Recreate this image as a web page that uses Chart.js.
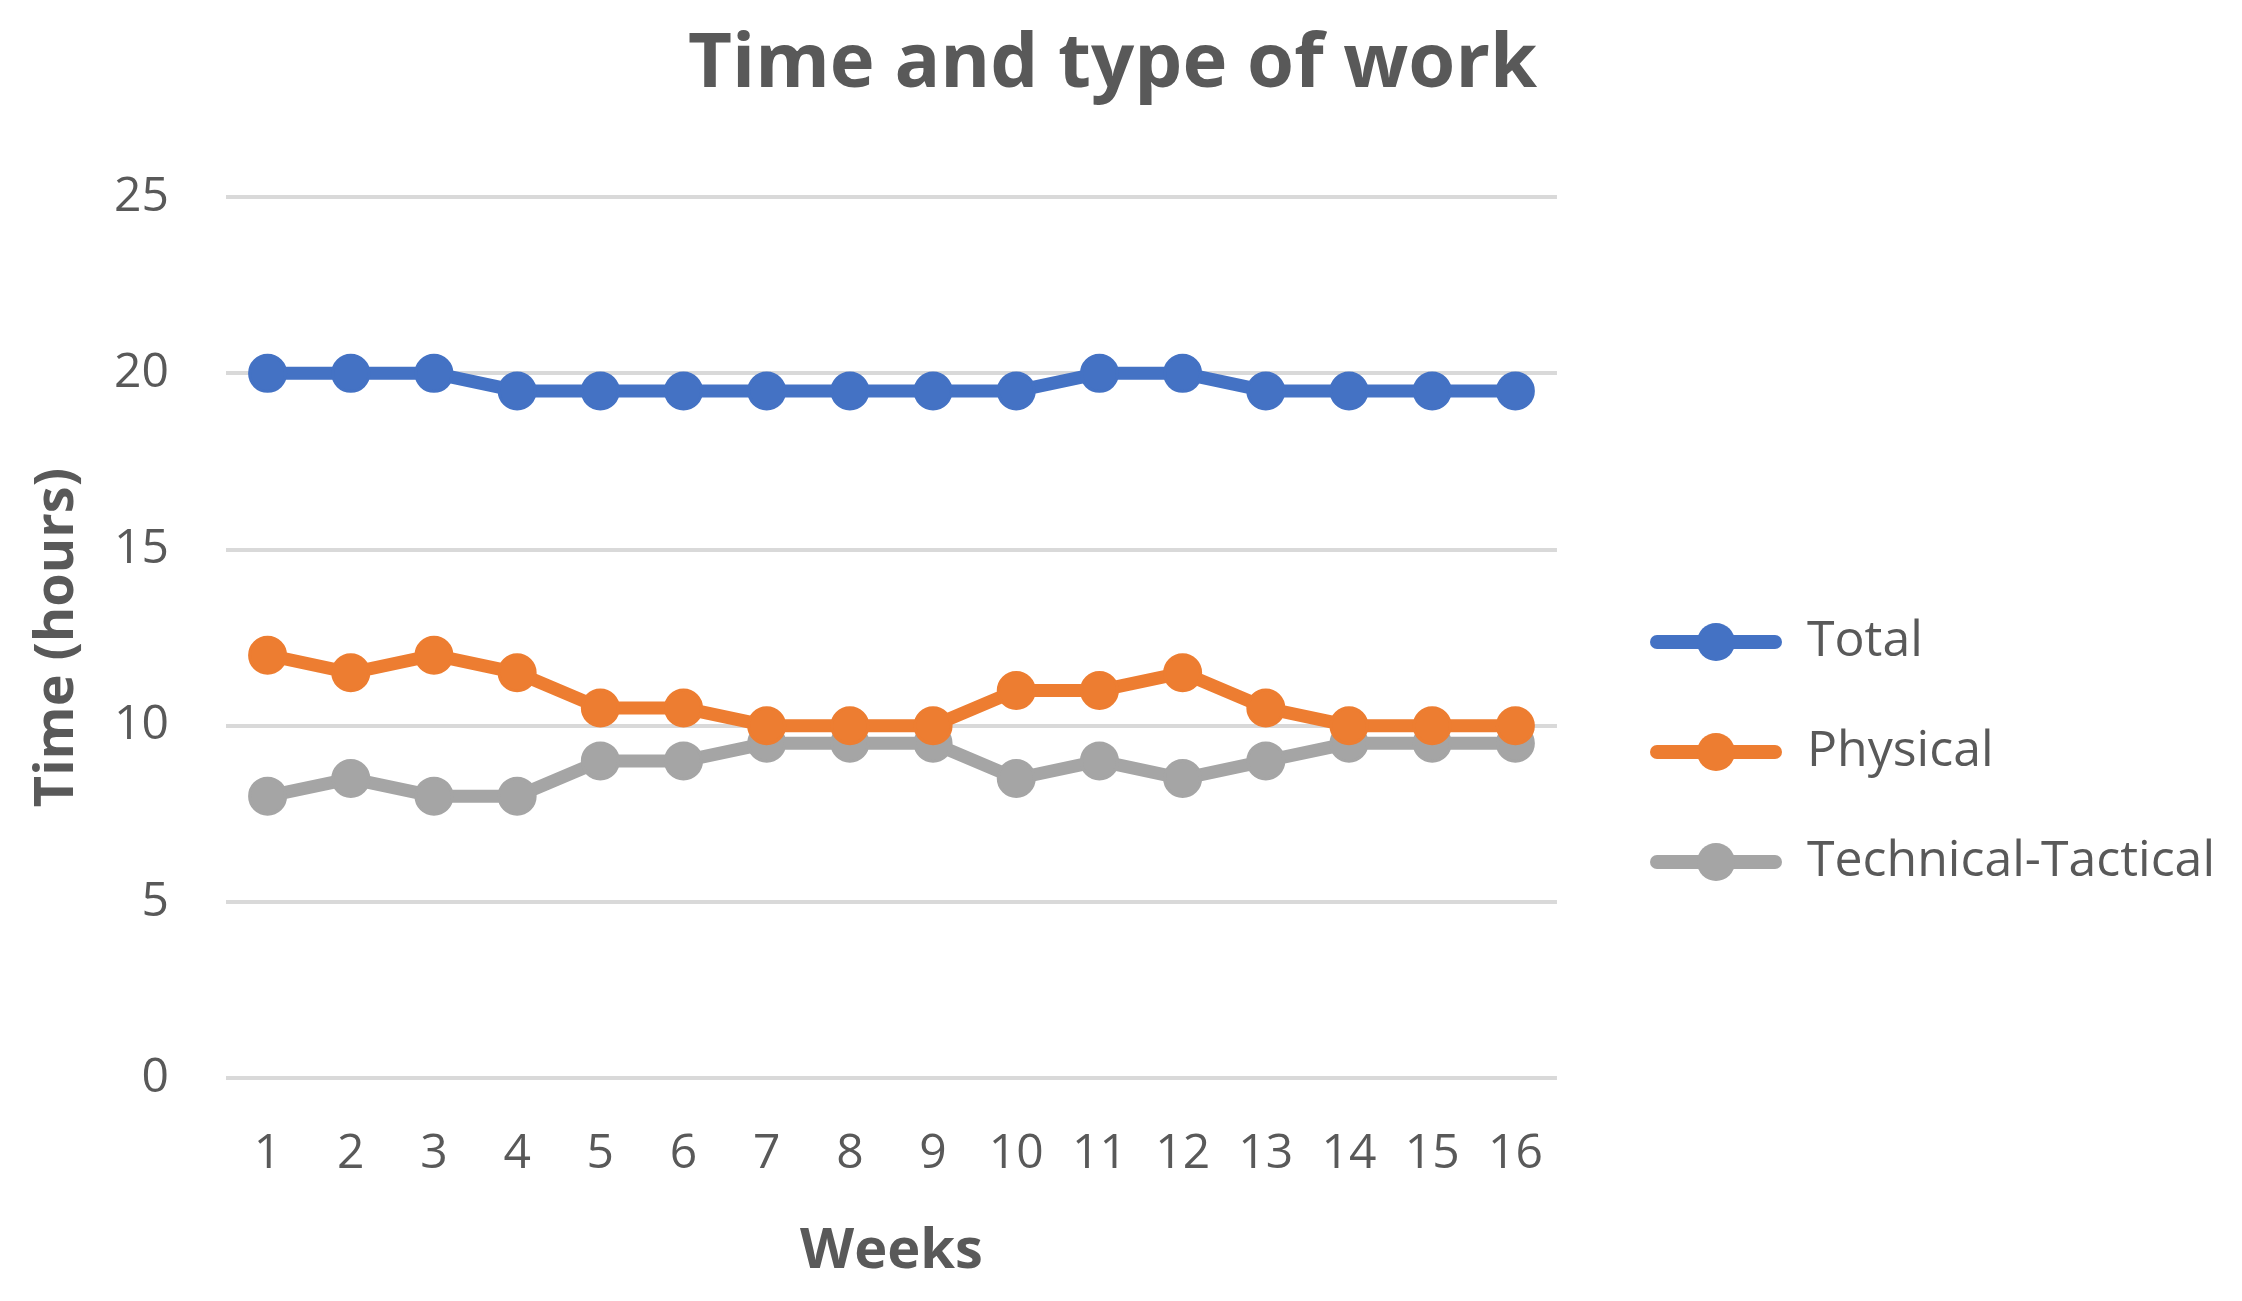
<!DOCTYPE html>
<html>
<head>
<meta charset="utf-8">
<title>Time and type of work</title>
<script src="https://cdn.jsdelivr.net/npm/chart.js@4.4.1/dist/chart.umd.min.js"></script>
<style>
  html, body { margin: 0; padding: 0; background: #fff; }
  #chart { display: block; }
</style>
</head>
<body>
<canvas id="chart" width="2242" height="1301"></canvas>
<script>
// data
const weeks = ['1','2','3','4','5','6','7','8','9','10','11','12','13','14','15','16'];
const totalHours = [20, 20, 20, 19.5, 19.5, 19.5, 19.5, 19.5, 19.5, 19.5, 20, 20, 19.5, 19.5, 19.5, 19.5];
const physicalHours = [12, 11.5, 12, 11.5, 10.5, 10.5, 10, 10, 10, 11, 11, 11.5, 10.5, 10, 10, 10];
const techTactHours = [8, 8.5, 8, 8, 9, 9, 9.5, 9.5, 9.5, 8.5, 9, 8.5, 9, 9.5, 9.5, 9.5];
const yTicks = [0, 5, 10, 15, 20, 25];

const textColor = '#595959';
Chart.defaults.font.family = "'Open Sans', sans-serif";
Chart.defaults.color = textColor;

// legend symbol: line with a dot in the middle, like the office chart
function legendSymbol(color){
    const c = document.createElement('canvas');
    c.width = 165; c.height = 42;
    const ctx = c.getContext('2d');
    ctx.strokeStyle = color;
    ctx.lineWidth = 14;
    ctx.lineCap = 'round';
    ctx.beginPath();
    ctx.moveTo(40, 21);
    ctx.lineTo(158, 21);
    ctx.stroke();
    ctx.fillStyle = color;
    ctx.beginPath();
    ctx.arc(99, 21, 19, 0, Math.PI * 2);
    ctx.fill();
    return c;
}

function makeSeries(label, values, color){
    return {
        label: label,
        data: values,
        borderColor: color,
        backgroundColor: color,
        borderWidth: 13,
        pointRadius: 18,
        pointHoverRadius: 18,
        pointBorderWidth: 3,
        pointBackgroundColor: color,
        pointBorderColor: color,
        pointStyle: 'circle',
        legendStyle: legendSymbol(color),
        tension: 0
    };
}

const datasets = [
    makeSeries('Total', totalHours, '#4472C4'),
    makeSeries('Physical', physicalHours, '#ED7D31'),
    makeSeries('Technical-Tactical', techTactHours, '#A5A5A5')
];

new Chart(document.getElementById('chart'), {
    type: 'line',
    data: { labels: weeks, datasets: datasets },
    options: {
        responsive: false,
        animation: false,
        layout: { padding: { left: 0, top: 0, bottom: 0, right: 17 } },
        plugins: {
            title: {
                display: true,
                text: 'Time and type of work',
                color: textColor,
                font: { size: 76, weight: 'bold' },
                padding: { top: 20, bottom: 86 }
            },
            legend: {
                display: true,
                position: 'right',
                align: 'center',
                maxWidth: 686,
                // empty title only pushes the entries down
                title: { display: true, text: ' ', font: { size: 10 }, padding: { top: 0, bottom: 191 } },
                labels: {
                    usePointStyle: true,
                    boxWidth: 165,
                    pointStyleWidth: 165,
                    padding: 60,
                    color: textColor,
                    font: { size: 50 },
                    generateLabels: function(chart){
                        return chart.data.datasets.map((d, i) => ({
                            text: d.label,
                            fillStyle: d.borderColor,
                            strokeStyle: d.borderColor,
                            lineWidth: 0,
                            pointStyle: d.legendStyle,
                            hidden: false,
                            datasetIndex: i,
                            fontColor: textColor
                        }));
                    }
                }
            },
            tooltip: { enabled: false }
        },
        scales: {
            x: {
                type: 'category',
                offset: true,
                grid: { display: false, drawTicks: false },
                border: { display: false },
                ticks: { color: textColor, font: { size: 48 }, padding: 48, maxRotation: 0, autoSkip: false },
                title: {
                    display: true,
                    text: 'Weeks',
                    color: textColor,
                    font: { size: 56, weight: 'bold' },
                    padding: { top: 0, bottom: 15 }
                },
                afterFit: function(scale){ scale.height = 223; }
            },
            y: {
                min: 0,
                max: 25,
                afterBuildTicks: function(scale){ scale.ticks = yTicks.map(v => ({ value: v })); },
                grid: { color: '#d9d9d9', lineWidth: 4, drawTicks: false },
                border: { display: false },
                ticks: { color: textColor, font: { size: 48 }, padding: 57 },
                title: {
                    display: true,
                    text: 'Time (hours)',
                    color: textColor,
                    font: { size: 54, weight: 'bold' },
                    padding: { top: 25, bottom: 0 }
                },
                afterFit: function(scale){ scale.width = 226; }
            }
        }
    }
});
</script>
</body>
</html>
